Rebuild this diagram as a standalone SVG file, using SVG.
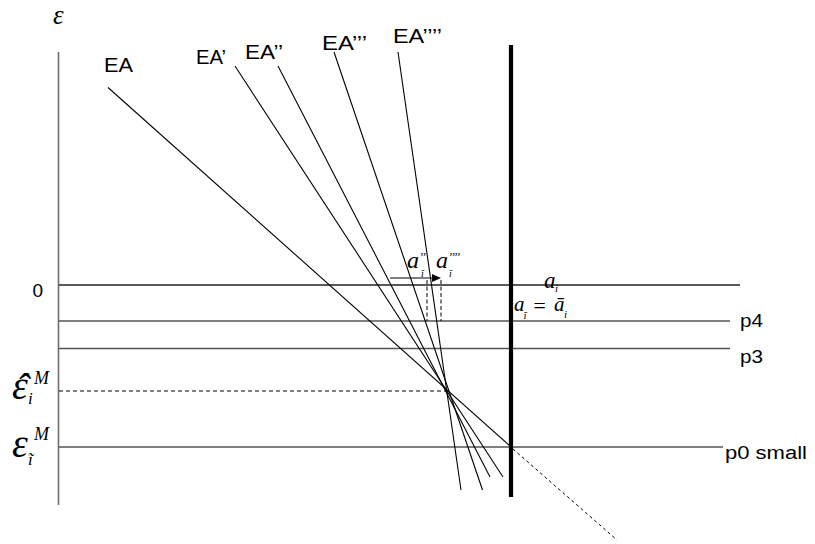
<svg xmlns="http://www.w3.org/2000/svg" width="815" height="544" viewBox="0 0 815 544">
<style>
.ax{stroke:#6e6e6e;stroke-width:1.6;fill:none}
.h{stroke:#555;stroke-width:1.4;fill:none}
.ln{stroke:#000;stroke-width:1.1;fill:none}
.dash{stroke:#000;stroke-width:1;fill:none}
.sans{font-family:"Liberation Sans",Arial,sans-serif;fill:#000}
.math{font-family:"Liberation Serif","Times New Roman",serif;font-style:italic;fill:#000}
</style>
<rect width="815" height="544" fill="#fff"/>
<g id="axes">
<line class="ax" x1="58.5" y1="52" x2="58.5" y2="505"/>
<line class="h" style="stroke:#222" x1="59" y1="285" x2="740" y2="285"/>
<line class="h" x1="59" y1="321" x2="730" y2="321"/>
<line class="h" x1="59" y1="348.5" x2="730" y2="348.5"/>
<line class="h" x1="59" y1="447" x2="723" y2="447"/>
<line stroke="#000" stroke-width="4.2" x1="511" y1="45" x2="511" y2="497"/>
</g>
<g id="connectors">
<line class="ln" x1="108" y1="87.5" x2="511" y2="447"/>
<line class="dash" stroke-dasharray="3 3" x1="513" y1="449" x2="617" y2="540"/>
<line class="ln" x1="235" y1="66" x2="503" y2="477"/>
<line class="ln" x1="278" y1="66" x2="490" y2="477"/>
<line class="ln" x1="334" y1="52" x2="482.5" y2="490"/>
<line class="ln" x1="398" y1="52" x2="461" y2="490"/>
<line class="dash" stroke-dasharray="4 3" x1="59" y1="391" x2="447" y2="391"/>
<line class="dash" stroke-dasharray="4 2.5" x1="427" y1="280" x2="427" y2="321"/>
<line class="dash" stroke-dasharray="4 2.5" x1="441" y1="280" x2="441" y2="321"/>
<line class="ln" x1="390" y1="278" x2="433" y2="278"/>
<polygon points="441,278 432,274 432,282" fill="#000"/>
</g>
<g id="labels">
<text class="sans" x="104" y="72" font-size="21" textLength="29" lengthAdjust="spacingAndGlyphs">EA</text>
<text class="sans" x="196" y="64" font-size="21" textLength="30" lengthAdjust="spacingAndGlyphs">EA’</text>
<text class="sans" x="245" y="58.5" font-size="21" textLength="38" lengthAdjust="spacingAndGlyphs">EA’’</text>
<text class="sans" x="322" y="50" font-size="21" textLength="45" lengthAdjust="spacingAndGlyphs">EA’’’</text>
<text class="sans" x="393" y="43" font-size="21" textLength="49" lengthAdjust="spacingAndGlyphs">EA’’’’</text>
<text class="sans" x="32.5" y="297" font-size="19">0</text>
<text class="sans" x="740" y="327" font-size="18" textLength="23" lengthAdjust="spacingAndGlyphs">p4</text>
<text class="sans" x="740" y="363" font-size="18" textLength="23" lengthAdjust="spacingAndGlyphs">p3</text>
<text class="sans" x="725" y="458.5" font-size="18" textLength="82" lengthAdjust="spacingAndGlyphs">p0 small</text>
<text class="math" x="53" y="24" font-size="27">ε</text>
<text class="math" x="544" y="288" font-size="23">a</text>
<text class="math" x="555" y="292" font-size="11">i</text>
<text class="math" x="514" y="311" font-size="21">a</text>
<text class="math" x="523.5" y="319" font-size="11">ĩ</text>
<text class="math" x="532" y="313" font-size="22" font-style="normal">=</text>
<text class="math" x="554" y="311" font-size="21">ā</text>
<text class="math" x="564" y="318" font-size="11">i</text>
<text class="math" x="407" y="268" font-size="24">a</text>
<text class="math" x="419" y="261" font-size="12">’’</text>
<text class="math" x="421" y="277" font-size="10">ĩ</text>
<text class="math" x="436" y="268" font-size="24">a</text>
<text class="math" x="448" y="261" font-size="12">’’’’</text>
<text class="math" x="449" y="277" font-size="10">ĩ</text>
<text class="math" x="12" y="399" font-size="40">ε</text>
<text class="math" x="16" y="401" font-size="40">ˆ</text>
<text class="math" x="34" y="384" font-size="18">M</text>
<text class="math" x="28" y="404" font-size="17">i</text>
<text class="math" x="12" y="457" font-size="40">ε</text>
<text class="math" x="34" y="440" font-size="18">M</text>
<text class="math" x="28" y="465" font-size="17">ĩ</text>
</g>
</svg>
